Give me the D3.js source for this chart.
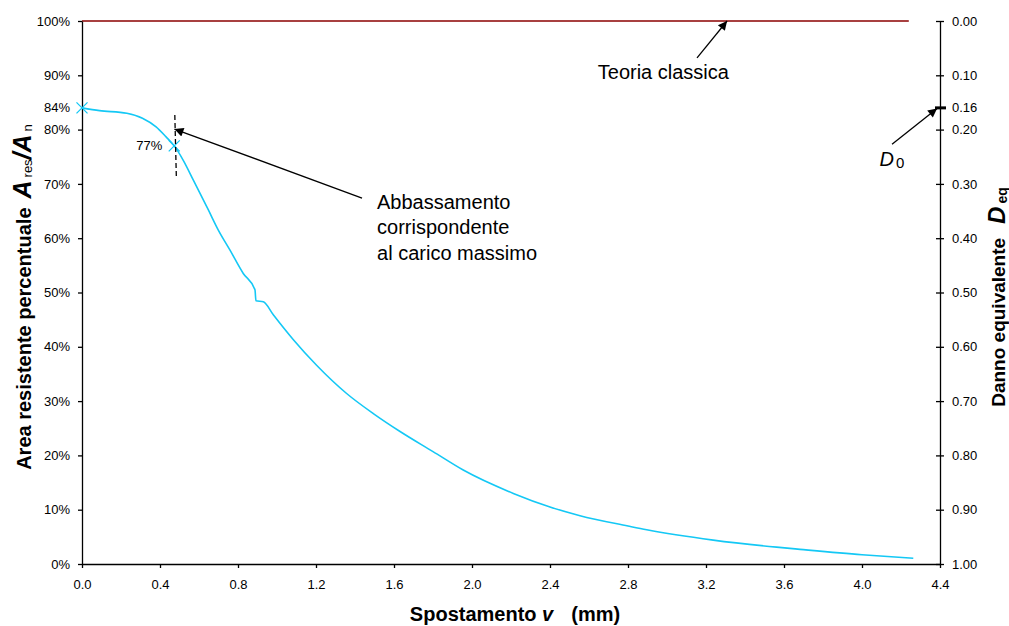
<!DOCTYPE html>
<html>
<head>
<meta charset="utf-8">
<script src="https://cdn.jsdelivr.net/npm/d3@7"></script>
<style>
  body { margin: 0; background: #fff; }
  text { font-family: Arial, "Liberation Sans", sans-serif; fill: #000; }
  .domain, .tick line { stroke: #000; }
</style>
</head>
<body>
<svg id="chart"></svg>
<script>
// displacement v (mm) and residual area A_res/A_n (%)
var spostamento = [0, 0.09, 0.23, 0.31, 0.38, 0.43, 0.473, 0.52, 0.571, 0.648, 0.699, 0.759, 0.827,
                   0.887, 0.892, 0.93, 0.981, 1.084, 1.203, 1.357, 1.494, 1.631, 1.80, 1.955, 2.212,
                   2.4, 2.554, 2.8, 2.896, 3.237, 3.562, 3.682, 4.0, 4.263];
var areaRes = [84, 83.5, 83.0, 82.1, 80.5, 78.7, 77, 74.3, 70.7, 65.2, 61.5, 57.8, 53.5,
               50.5, 48.5, 48.3, 45.9, 41.3, 36.6, 31.4, 27.7, 24.4, 20.7, 17.3, 13.0,
               10.5, 8.9, 7.0, 6.3, 4.4, 3.1, 2.7, 1.7, 1.05];

var xTicks = [0, 0.4, 0.8, 1.2, 1.6, 2.0, 2.4, 2.8, 3.2, 3.6, 4.0, 4.4];
var yTicks = [0, 10, 20, 30, 40, 50, 60, 70, 80, 90, 100];
var dTicks = [0, 0.1, 0.2, 0.3, 0.4, 0.5, 0.6, 0.7, 0.8, 0.9, 1.0];

var markers = [{v: 0, a: 84, label: "84%"}, {v: 0.473, a: 77, label: "77%"}];
var d0 = 0.16;
var teoriaClassica = 100;

var margin = {top: 21, right: 69, bottom: 62, left: 82},
    width = 1009 - margin.left - margin.right,
    height = 626 - margin.top - margin.bottom;

var root = d3.select("#chart")
    .attr("width", 1009)
    .attr("height", 626);

var svg = root.append("g")
    .attr("transform", "translate(" + margin.left + "," + margin.top + ")");

var x = d3.scaleLinear().domain([0, 4.4]).range([0, width]);
var y = d3.scaleLinear().domain([0, 100]).range([height, 0]);
var yD = d3.scaleLinear().domain([0, 1]).range([0, height]);

// classical theory line
svg.append("line")
    .attr("x1", x(0)).attr("x2", x(4.24))
    .attr("y1", y(teoriaClassica)).attr("y2", y(teoriaClassica))
    .style("stroke", "#8b0000")
    .style("stroke-width", 1.3);

// axes
var xAxis = svg.append("g")
    .attr("transform", "translate(0," + height + ")")
    .call(d3.axisBottom(x).tickValues(xTicks).tickFormat(d3.format(".1f")).tickSize(4).tickSizeOuter(0).tickPadding(12));

var yAxis = svg.append("g")
    .call(d3.axisLeft(y).tickValues(yTicks).tickFormat(function(d) { return d + "%"; }).tickSize(4).tickSizeOuter(0).tickPadding(8));

var dAxis = svg.append("g")
    .attr("transform", "translate(" + width + ",0)")
    .call(d3.axisRight(yD).tickValues(dTicks).tickFormat(d3.format(".2f")).tickSize(4).tickSizeOuter(0).tickPadding(8));
dAxis.selectAll(".tick line").attr("x1", -4);

// D0 tick
var d0Tick = dAxis.append("g").attr("transform", "translate(0," + yD(d0) + ")");
d0Tick.append("line").attr("x1", -5).attr("x2", 6).style("stroke", "#000").style("stroke-width", 3);
d0Tick.append("text").attr("x", 12).attr("dy", "0.32em").text("0.16");

[xAxis, yAxis, dAxis].forEach(function(a) {
  a.selectAll("text").style("font-size", "13px").style("font-family", "Arial, 'Liberation Sans', sans-serif");
  a.select(".domain").style("stroke-width", 1.3);
  a.selectAll(".tick line").style("stroke-width", 1.3);
});
d0Tick.select("text").style("font-size", "13px").attr("fill", "#000");

// curve
var line = d3.line()
    .x(function(d, i) { return x(spostamento[i]); })
    .y(function(d) { return y(d); })
    .curve(d3.curveMonotoneX);

svg.append("path")
    .datum(areaRes)
    .attr("d", line)
    .style("fill", "none")
    .style("stroke", "#14c8f5")
    .style("stroke-width", 1.6);

// markers
var sym = d3.symbol().type(d3.symbolX).size(81);
svg.selectAll(".mk")
    .data(markers)
    .enter()
    .append("path")
      .attr("class", "mk")
      .attr("d", sym)
      .attr("transform", function(d) { return "translate(" + x(d.v) + "," + y(d.a) + ")"; })
      .style("fill", "none")
      .style("stroke", "#14c8f5")
      .style("stroke-width", 1.3);

svg.selectAll(".mklab")
    .data(markers)
    .enter()
    .append("text")
      .attr("x", function(d) { return x(d.v) - 12; })
      .attr("y", function(d) { return y(d.a); })
      .attr("dy", "0.35em")
      .attr("text-anchor", "end")
      .style("font-size", "13px")
      .text(function(d) { return d.label; });

// dashed line at maximum load
svg.append("line")
    .attr("x1", x(0.476)).attr("y1", y(82.7))
    .attr("x2", x(0.484)).attr("y2", y(71.0))
    .style("stroke", "#000")
    .style("stroke-width", 1.3)
    .style("stroke-dasharray", "5,3");

// arrowhead
root.append("defs").append("marker")
    .attr("id", "arrow")
    .attr("viewBox", "0 0 10 10")
    .attr("refX", 10).attr("refY", 5)
    .attr("markerWidth", 13).attr("markerHeight", 9)
    .attr("markerUnits", "userSpaceOnUse")
    .attr("orient", "auto")
  .append("path")
    .attr("d", "M0,0L10,5L0,10z")
    .style("fill", "#000");

function arrow(v1, a1, v2, a2) {
  svg.append("line")
      .attr("x1", x(v1)).attr("y1", y(a1))
      .attr("x2", x(v2)).attr("y2", y(a2))
      .style("stroke", "#000")
      .style("stroke-width", 1.3)
      .attr("marker-end", "url(#arrow)");
}

arrow(1.436, 67.4, 0.474, 80.1);
arrow(3.154, 93.2, 3.308, 100);
arrow(4.154, 77.3, 4.385, 83.9);

// annotation texts
var abb = svg.append("text")
    .attr("x", x(1.513))
    .attr("y", y(65.4))
    .style("font-size", "20px");
["Abbassamento", "corrispondente", "al carico massimo"].forEach(function(t, i) {
  abb.append("tspan").attr("x", x(1.513)).attr("dy", i === 0 ? 0 : 25.5).text(t);
});

svg.append("text")
    .attr("x", x(2.645))
    .attr("y", y(89.4))
    .style("font-size", "20px")
    .text("Teoria classica");

var d0Lab = svg.append("text")
    .attr("x", x(4.09))
    .attr("y", y(73.3))
    .style("font-size", "20px");
d0Lab.append("tspan").style("font-style", "italic").text("D");
d0Lab.append("tspan").attr("dx", 2).attr("dy", 2).style("font-size", "15px").text("0");

// axis titles
var xt = root.append("text")
    .attr("x", 515)
    .attr("y", 621)
    .attr("text-anchor", "middle")
    .style("font-size", "20px")
    .style("font-weight", "bold");
xt.append("tspan").text("Spostamento ");
xt.append("tspan").style("font-style", "italic").text("v");
xt.append("tspan").attr("dx", 18).text("(mm)");

var yt = root.append("text")
    .attr("transform", "translate(31,297) rotate(-90)")
    .attr("text-anchor", "middle")
    .style("font-size", "20px")
    .style("font-weight", "bold");
yt.append("tspan").text("Area resistente percentuale");
yt.append("tspan").attr("dx", 9).style("font-style", "italic").style("font-size", "25px").text("A");
yt.append("tspan").attr("dx", 3).attr("dy", 1).style("font-size", "13px").style("font-weight", "normal").text("res");
yt.append("tspan").attr("dy", -1).style("font-style", "italic").style("font-size", "25px").text("/A");
yt.append("tspan").attr("dx", 3).attr("dy", 1).style("font-size", "13px").style("font-weight", "normal").text("n");

var dt = root.append("text")
    .attr("transform", "translate(1005,297) rotate(-90)")
    .attr("text-anchor", "middle")
    .style("font-size", "19px")
    .style("font-weight", "bold");
dt.append("tspan").text("Danno equivalente");
dt.append("tspan").attr("dx", 14).style("font-style", "italic").style("font-size", "24px").text("D");
dt.append("tspan").attr("dx", 3).attr("dy", 2).style("font-size", "14px").text("eq");
</script>
</body>
</html>
